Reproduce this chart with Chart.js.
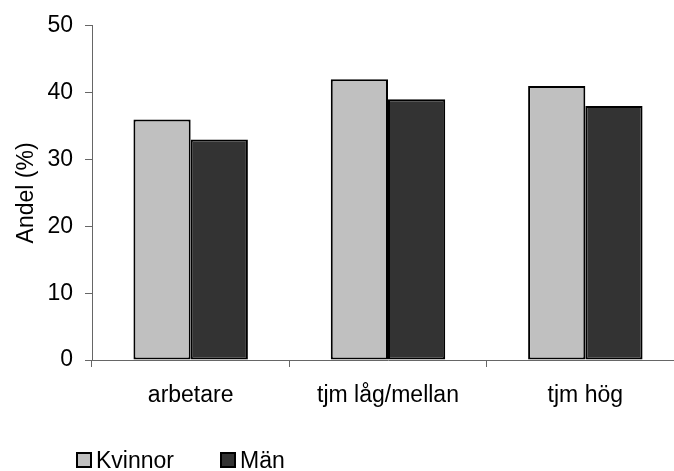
<!DOCTYPE html>
<html>
<head>
<meta charset="utf-8">
<script src="https://cdn.jsdelivr.net/npm/chart.js@4"></script>
<style>
  html, body { margin: 0; padding: 0; background: #fff; overflow: hidden; }
  .wrap { width: 674px; height: 471px; overflow: hidden; position: relative; }
  canvas { display: block; }
</style>
</head>
<body>
<div class="wrap">
  <canvas id="chart" width="684" height="471"></canvas>
</div>
<script>
const CATEGORIES = ["arbetare", "tjm låg/mellan", "tjm hög"];
const KVINNOR = [36, 42, 41];
const MAN = [33, 39, 38];
const Y_TICKS = [0, 10, 20, 30, 40, 50];

const COLORS = {
  black: "#000000",
  lightGray: "#C0C0C0",
  darkGray: "#333333",
  axis: "#666666",
};

const FONT = "'Liberation Sans', Arial, sans-serif";
const FONT_SIZE = 23;

// legend drawn by hand under the x labels
const bottomLegend = {
  id: "bottomLegend",
  afterDraw: (chart) => {
    const { ctx } = chart;
    const positions = [77, 221];
    ctx.save();
    ctx.font = FONT_SIZE + "px " + FONT;
    ctx.textBaseline = "alphabetic";
    chart.data.datasets.forEach((ds, i) => {
      const x = positions[i];
      ctx.fillStyle = ds.backgroundColor;
      ctx.fillRect(x, 453, 14, 14);
      ctx.lineWidth = 2;
      ctx.strokeStyle = COLORS.black;
      ctx.strokeRect(x, 453, 14, 14);
      ctx.fillStyle = COLORS.black;
      ctx.fillText(ds.label, x + 19, 468);
    });
    ctx.restore();
  },
};

new Chart(document.getElementById("chart"), {
  type: "bar",
  data: {
    labels: CATEGORIES,
    datasets: [
      {
        label: "Kvinnor",
        data: KVINNOR,
        backgroundColor: COLORS.lightGray,
        borderColor: COLORS.black,
        borderWidth: 2,
        borderSkipped: false,
      },
      {
        label: "Män",
        data: MAN,
        backgroundColor: COLORS.darkGray,
        borderColor: COLORS.black,
        borderWidth: 2,
        borderSkipped: false,
      },
    ],
  },
  options: {
    responsive: false,
    animation: false,
    barPercentage: 1,
    categoryPercentage: 0.58,
    layout: {
      padding: { top: 23, left: 0, right: 0, bottom: 0 },
    },
    scales: {
      x: {
        grid: {
          display: true,
          offset: true,
          drawOnChartArea: false,
          drawTicks: true,
          tickLength: 7,
          color: COLORS.axis,
        },
        border: { color: COLORS.axis, width: 1 },
        ticks: {
          color: COLORS.black,
          padding: 15,
          font: { family: FONT, size: FONT_SIZE },
        },
        afterFit: (scale) => {
          scale.height = 111;
        },
      },
      y: {
        min: 0,
        max: 50,
        afterBuildTicks: (scale) => {
          scale.ticks = Y_TICKS.map((v) => ({ value: v }));
        },
        grid: {
          display: true,
          drawOnChartArea: false,
          drawTicks: true,
          tickLength: 7,
          color: COLORS.axis,
        },
        border: { color: COLORS.axis, width: 1 },
        ticks: {
          color: COLORS.black,
          padding: 12,
          font: { family: FONT, size: FONT_SIZE },
        },
        title: {
          display: true,
          text: "Andel (%)",
          color: COLORS.black,
          font: { family: FONT, size: FONT_SIZE },
          padding: { top: 13, bottom: 0 },
        },
        afterFit: (scale) => {
          scale.width = 92;
        },
      },
    },
    plugins: {
      legend: { display: false },
      tooltip: { enabled: false },
    },
  },
  plugins: [bottomLegend],
});
</script>
</body>
</html>
